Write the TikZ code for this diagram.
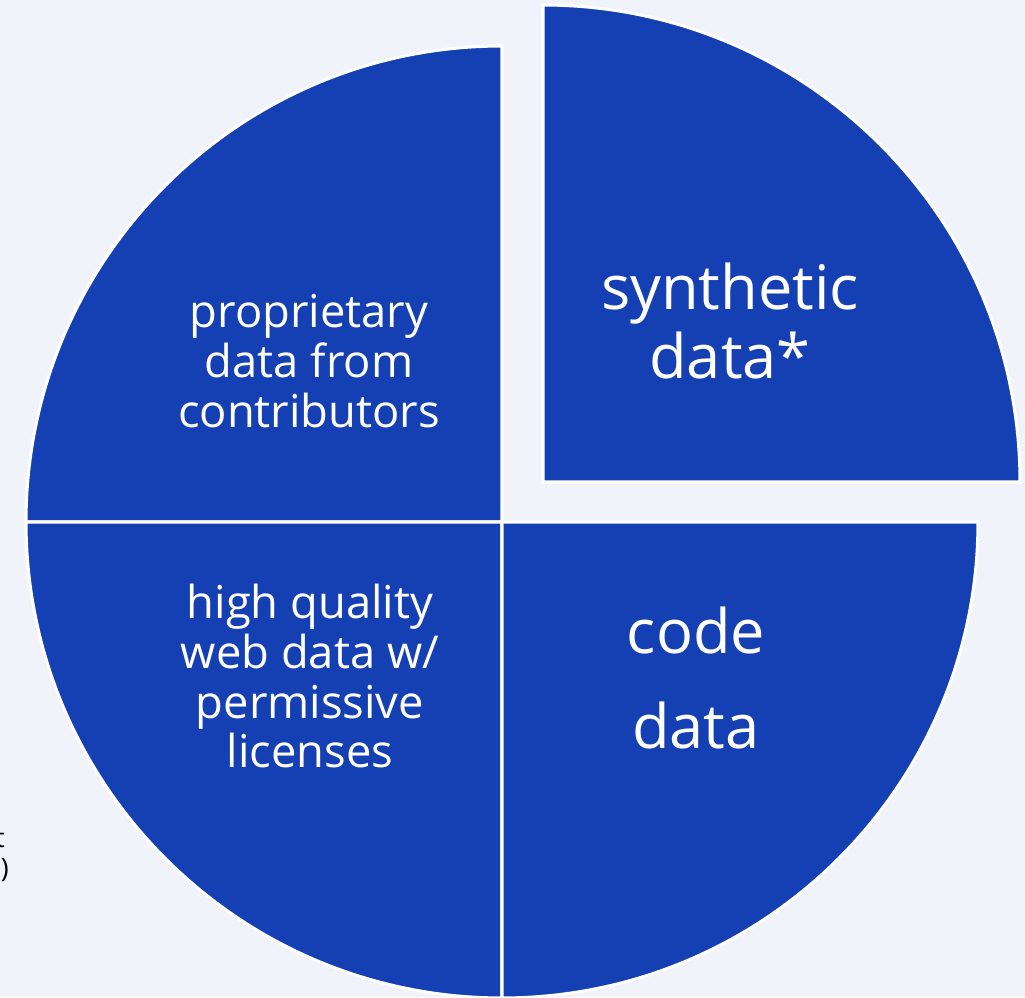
\documentclass[tikz,border=0pt]{standalone}
\usepackage{fontspec}
\setmainfont{Open Sans}
\usepackage{xcolor}
\usetikzlibrary{positioning,calc}
\definecolor{pieblue}{RGB}{21,64,180}
\definecolor{piebg}{RGB}{240,243,250}
\tikzset{
    wedge/.style={fill=pieblue, draw=white, line width=2.3pt, line join=miter},
    smalllabel/.style={text=white, align=center, font=\fontsize{34}{37.5}\selectfont},
    biglabel/.style={text=white, align=center, font=\fontsize{46}{52}\selectfont},
    cutlabel/.style={text=black, inner sep=0pt, font=\fontsize{20}{24}\selectfont}
}

\begin{document}
\begin{tikzpicture}[x=0.75pt,y=0.75pt]
    \fill[piebg] (0,0) rectangle (1025,997);
    \useasboundingbox (0,0) rectangle (1025,997);

    \coordinate (centre) at (502,475);
    \coordinate (shifted) at (543,515);

    % four quarters, the synthetic one pulled out
    \draw[wedge] (centre) -- ++(180:476) arc[start angle=180, end angle=90, radius=476] -- cycle;
    \draw[wedge] (centre) -- ++(180:476) arc[start angle=180, end angle=270, radius=476] -- cycle;
    \draw[wedge] (centre) -- ++(270:476) arc[start angle=270, end angle=360, radius=476] -- cycle;
    \draw[wedge] (shifted) -- ++(0:477) arc[start angle=0, end angle=90, radius=477] -- cycle;

    \node[smalllabel] (proprietary) at (309,636) {proprietary\\data from\\contributors};
    \node[smalllabel] (webdata) at (310,321) {high quality\\web data w/\\permissive\\licenses};
    \node[biglabel] (synthetic) at (730,676) {synthetic\\data*};
    \node[biglabel, font=\fontsize{46}{71}\selectfont] (code) at (696,319) {code\\data};

    % text cut off at the left edge
    \node[cutlabel, anchor=east] (cutt) at (5,158) {t};
    \node[cutlabel, anchor=east] (cutparen) at (9,127) {)};
\end{tikzpicture}
\end{document}
